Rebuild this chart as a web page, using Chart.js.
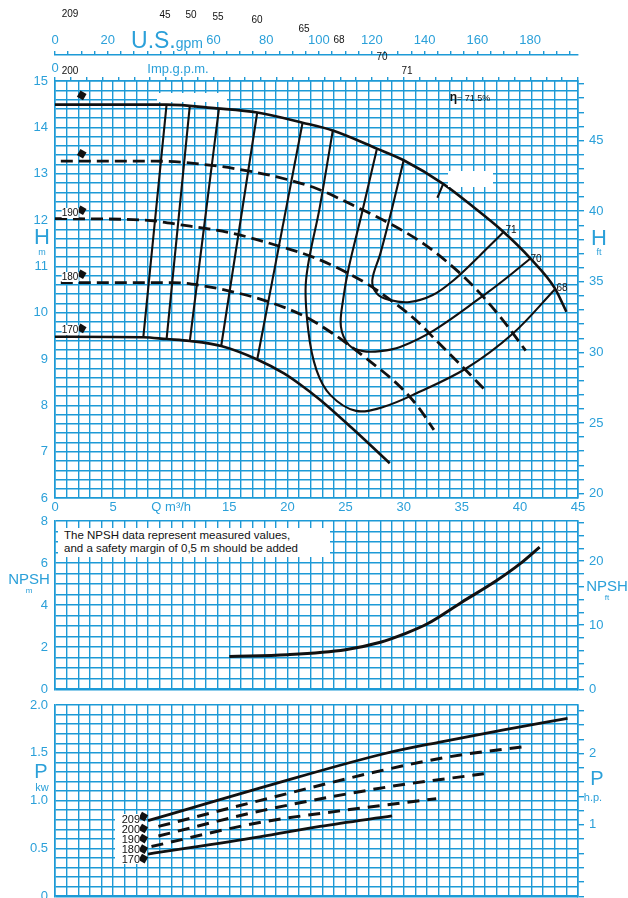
<!DOCTYPE html>
<html>
<head>
<meta charset="utf-8">
<script src="https://cdn.jsdelivr.net/npm/chart.js@4.4.1/dist/chart.umd.min.js"></script>
<style>
body { margin: 0; background: #fff; }
#wrap { position: relative; width: 628px; height: 898px; overflow: hidden; background: #fff;
        font-family: "Liberation Sans", Arial, sans-serif; }
canvas { position: absolute; left: 0; }
.t { position: absolute; white-space: nowrap; transform: translate(-50%, -50%); line-height: 1; }
.b { color: #2ba0d9; }
.k { color: #111; font-size: 10px; }
.w { background: #fff; }
.note { position: absolute; left: 58px; top: 528px; width: 272px; height: 29px; background: #fff;
        color: #111; font-size: 11.5px; line-height: 13px; padding-left: 6px; box-sizing: border-box; padding-top: 1px; }
.plab { position: absolute; left: 115px; top: 814px; width: 25px; background: #fff; color: #111;
        font-size: 11px; line-height: 10px; text-align: right; }
</style>
</head>
<body>
<div id="wrap">
  <canvas id="hq" width="628" height="520" style="top:0"></canvas>
  <canvas id="npsh" width="628" height="199" style="top:505px"></canvas>
  <canvas id="pow" width="628" height="221" style="top:690px"></canvas>

  <!-- efficiency / impeller labels (displaced in the scan) -->
  <div class="t k" style="left:70px;top:14px">209</div>
  <div class="t k" style="left:165px;top:15px">45</div>
  <div class="t k" style="left:191px;top:15px">50</div>
  <div class="t k" style="left:218px;top:17px">55</div>
  <div class="t k" style="left:257px;top:20px">60</div>
  <div class="t k" style="left:304px;top:29px">65</div>
  <div class="t k" style="left:339px;top:40px">68</div>
  <div class="t k" style="left:382px;top:57px">70</div>
  <div class="t k" style="left:407px;top:71px">71</div>
  <div class="t k" style="left:70px;top:71px">200</div>
  <div class="t k" style="left:470px;top:97px;font-size:9px"><b style="font-size:12px">η</b>= 71.5%</div>
  <div class="t k" style="left:511px;top:230px">71</div>
  <div class="t k" style="left:536px;top:259px">70</div>
  <div class="t k" style="left:562px;top:288px">68</div>
  <div class="t k w" style="left:70px;top:213px">190</div>
  <div class="t k w" style="left:70px;top:277px">180</div>
  <div class="t k w" style="left:70px;top:330px">170</div>

  <!-- white label patches -->
  <div style="position:absolute;left:157px;top:93px;width:70px;height:9px;background:#fff"></div>
  <div style="position:absolute;left:448px;top:171px;width:45px;height:16px;background:#fff"></div>

  <!-- axis titles -->
  <div class="t b" style="left:167px;top:40px"><span style="font-size:23px">U.S.</span><span style="font-size:14px">gpm</span></div>
  <div class="t b" style="left:178px;top:68px;font-size:13px">Imp.g.p.m.</div>
  <div class="t b" style="left:42px;top:237px;font-size:22px">H</div>
  <div class="t b" style="left:42px;top:252px;font-size:9px">m</div>
  <div class="t b" style="left:599px;top:238px;font-size:22px">H</div>
  <div class="t b" style="left:599px;top:252px;font-size:9px">ft</div>
  <div class="t b" style="left:29px;top:578px;font-size:15px">NPSH</div>
  <div class="t b" style="left:29px;top:591px;font-size:8px">m</div>
  <div class="t b" style="left:607px;top:585px;font-size:15px">NPSH</div>
  <div class="t b" style="left:607px;top:598px;font-size:8px">ft</div>
  <div class="t b" style="left:41px;top:771px;font-size:20px">P</div>
  <div class="t b" style="left:42px;top:787px;font-size:11px">kw</div>
  <div class="t b" style="left:597px;top:778px;font-size:20px">P</div>
  <div class="t b" style="left:593px;top:797px;font-size:11px">h.p.</div>

  <div class="note">The NPSH data represent measured values,<br>and a safety margin of 0,5 m should be added</div>
  <div class="plab">209<br>200<br>190<br>180<br>170</div>
</div>

<script>
// unit factors
const FT = 3.28084, USGPM = 4.402868, IMPGPM = 3.666154, HP = 1.341022;

// tick labels (40 gpm slots carry the axis titles)
const qLabelled = [0, 5, 10, 15, 20, 25, 30, 35, 40, 45];
const hLabelled = [6, 7, 8, 9, 10, 11, 12, 13, 14, 15];
const hFtLabelled = [20, 25, 30, 35, 40, 45];
const usLabelled = [0, 20, 60, 80, 100, 120, 140, 160, 180];
const impLabelled = [0, 20, 60, 80, 100, 120, 140, 160];
const npshLabelled = [0, 2, 4, 6, 8];
const npshFtLabelled = [0, 10, 20];
const pLabelled = [0, 0.5, 1, 1.5, 2];
const pText = ["0", "0.5", "1.0", "1.5", "2.0"];
const hpLabelled = [1, 2];

// head curves per impeller diameter [Q m3/h, H m]
const H209 = [[0,14.49],[5,14.49],[9.6,14.49],[13.9,14.41],[17.4,14.32],[21.3,14.1],[23.9,13.93],[27.7,13.54],[30,13.29],[33.4,12.78],[36,12.28],[38.6,11.74],[40.9,11.17],[43,10.53],[44,10.02]];
const H200 = [[0.5,13.27],[8.7,13.27],[13.5,13.18],[15.9,13.09],[19.1,12.93],[22.5,12.68],[26.2,12.25],[28,12.03],[31.7,11.49],[34.9,10.84],[36.6,10.41],[38.5,9.85],[40.5,9.18]];
const H190 = [[0,12.03],[7.6,12.0],[11,11.89],[15.3,11.71],[19.1,11.45],[22.5,11.17],[26.8,10.63],[28.5,10.34],[31,9.85],[33,9.35],[35,8.85],[37,8.33]];
const H180 = [[0.5,10.65],[10.2,10.65],[12.5,10.59],[15.3,10.45],[18.2,10.25],[21.4,9.93],[23.9,9.55],[26.8,9.01],[29.7,8.4],[31.3,7.95],[32.6,7.47]];
const H170 = [[0,9.48],[7.6,9.47],[9.6,9.43],[11.6,9.39],[14.3,9.28],[17.4,8.99],[19.7,8.69],[21.1,8.45],[22.8,8.12],[25.5,7.52],[28.8,6.75]];

// iso-efficiency lines [Q, H]
const eta45 = [[9.6,14.49],[7.6,9.47]];
const eta50 = [[11.6,14.47],[9.6,9.43]];
const eta55 = [[14.1,14.4],[11.6,9.39]];
const eta60 = [[17.4,14.32],[14.3,9.28]];
const eta65 = [[21.3,14.1],[17.4,8.99]];
const eta68 = [[23.9,13.93],[22.8,12.3],[21.6,10.7],[21.8,9.6],[22.5,8.76],[23.7,8.22],[25.9,7.88],[28.3,7.97],[31.1,8.26],[35.4,8.8],[39.4,9.55],[43,10.5]];
const eta70 = [[27.7,13.54],[26.4,12.14],[25.3,11.0],[24.8,10.3],[24.6,9.7],[25.3,9.3],[26.5,9.17],[28,9.17],[29.7,9.26],[32.6,9.62],[36.7,10.34],[38.6,10.7],[40.9,11.17]];
const eta71 = [[30,13.29],[29,12.25],[28,11.28],[27.3,10.7],[27.7,10.41],[28.7,10.28],[30.5,10.23],[32.5,10.38],[34.3,10.7],[36.5,11.22],[38.6,11.74]];
const eta715 = [[33.4,12.78],[32.9,12.48]];

// diameter markers
const markQ = 2.3;
const markH = [14.69, 13.43, 12.21, 10.83, 9.66];
const markPQ = 7.6;
const markP = [0.832, 0.708, 0.603, 0.492, 0.393];

// NPSH [Q, m]
const NPSH = [[15,1.56],[20,1.64],[25,1.88],[28,2.23],[30,2.62],[32,3.1],[35,4.14],[38,5.17],[40,5.96],[41.7,6.76]];

// power [Q, kW]
const P209 = [[8,0.79],[13.6,0.99],[17.6,1.13],[28.3,1.49],[33,1.61],[38.6,1.74],[44.1,1.86]];
const P200 = [[8.9,0.73],[17.6,1.0],[28.3,1.32],[34,1.46],[40.7,1.57]];
const P190 = [[8.9,0.63],[18,0.9],[29,1.15],[36.9,1.28]];
const P180 = [[8.3,0.52],[17.6,0.77],[26.9,0.93],[32.8,1.02]];
const P170 = [[8,0.44],[17.6,0.62],[22.8,0.73],[29,0.84]];

const BLUE = "#1d9ad6", TXT = "#2ba0d9", INK = "#111";
Chart.defaults.font.family = '"Liberation Sans", Arial, sans-serif';
Chart.defaults.font.size = 13;

function near(list, v) {
    let r = Math.round(v * 1000) / 1000;
    return list.indexOf(r);
}

function axisX(showLabels, h) {
    return {
        type: "linear", position: "bottom", min: 0, max: 45,
        grid: { color: BLUE, lineWidth: 1.4, drawTicks: false },
        border: { color: BLUE, width: 1.6 },
        ticks: {
            stepSize: 1, autoSkip: false, maxRotation: 0, minRotation: 0, display: showLabels,
            padding: 2, color: TXT,
            callback: v => qLabelled.includes(v) ? (v === 10 ? "Q m³/h" : String(v)) : ""
        },
        afterFit: s => { s.height = h; }
    };
}

function axisLeft(min, max, step, labels, fmt) {
    return {
        type: "linear", position: "left", min: min, max: max,
        grid: { color: BLUE, lineWidth: 1.4, drawTicks: false },
        border: { color: BLUE, width: 1.6 },
        ticks: {
            stepSize: step, autoSkip: false, padding: 7, color: TXT,
            callback: v => { let i = near(labels, v); return i < 0 ? "" : fmt(i); }
        },
        afterFit: s => { s.width = 55; }
    };
}

function axisRight(min, max, step, labels) {
    return {
        type: "linear", position: "right", min: min, max: max,
        grid: { drawOnChartArea: false, color: BLUE, lineWidth: 1.4, tickLength: 6 },
        border: { color: BLUE, width: 1.6 },
        ticks: {
            stepSize: step, autoSkip: false, includeBounds: false, padding: 5, color: TXT,
            callback: v => { let i = near(labels, v); return i < 0 ? "" : String(labels[i]); }
        },
        afterFit: s => { s.width = 50; }
    };
}

function axisTop(max, weight, h, pad, labels) {
    return {
        type: "linear", position: "top", min: 0, max: max, weight: weight,
        grid: { drawOnChartArea: false, color: BLUE, lineWidth: 1.4, tickLength: 4 },
        border: { color: BLUE, width: 1.6 },
        ticks: {
            stepSize: 5, autoSkip: false, includeBounds: false, maxRotation: 0, minRotation: 0,
            padding: pad, color: TXT,
            callback: v => labels.includes(v) ? String(v) : ""
        },
        afterFit: s => { s.height = h; }
    };
}

function curve(pts, opts) {
    return Object.assign({
        data: pts.map(p => ({ x: p[0], y: p[1] })),
        showLine: true, borderColor: INK, borderWidth: 2.6, pointRadius: 0,
        fill: false, tension: 0.35
    }, opts || {});
}

function marks(q, vals) {
    return {
        data: vals.map(v => ({ x: q, y: v })),
        showLine: false, pointStyle: "rect", pointRotation: 30, pointRadius: 5,
        backgroundColor: INK, borderColor: INK, borderWidth: 0
    };
}

const common = {
    responsive: false, animation: false, devicePixelRatio: 1,
    plugins: { legend: { display: false }, tooltip: { enabled: false } }
};

const dash = { borderDash: [12, 6], borderWidth: 2.8 };
const mono = { cubicInterpolationMode: "monotone" };
const thin = { borderWidth: 2.1 };

// H-Q chart
new Chart(document.getElementById("hq"), {
    type: "scatter",
    data: {
        datasets: [
            curve(H209, mono),
            curve(H200, Object.assign({}, mono, dash)),
            curve(H190, Object.assign({}, mono, dash)),
            curve(H180, Object.assign({}, mono, dash)),
            curve(H170, mono),
            curve(eta45, thin), curve(eta50, thin), curve(eta55, thin),
            curve(eta60, thin), curve(eta65, thin),
            curve(eta68, thin), curve(eta70, thin), curve(eta71, thin), curve(eta715, thin),
            marks(markQ, markH)
        ]
    },
    options: Object.assign({}, common, {
        layout: { padding: 0 },
        scales: {
            x: axisX(true, 22),
            y: axisLeft(6, 15, 0.2, hLabelled, i => String(hLabelled[i])),
            yft: axisRight(6 * FT, 15 * FT, 1, hFtLabelled),
            us: axisTop(45 * USGPM, 2, 55, 3, usLabelled),
            imp: axisTop(45 * IMPGPM, 1, 26, 1, impLabelled)
        }
    })
});

// NPSH chart
new Chart(document.getElementById("npsh"), {
    type: "scatter",
    data: { datasets: [curve(NPSH, Object.assign({ borderWidth: 3 }, mono))] },
    options: Object.assign({}, common, {
        layout: { padding: { top: 16 } },
        scales: {
            x: axisX(false, 12),
            y: axisLeft(0, 8, 0.5, npshLabelled, i => String(npshLabelled[i])),
            yft: axisRight(0, 8 * FT, 2, npshFtLabelled)
        }
    })
});

// power chart
const pdash = { borderDash: [12, 8], borderWidth: 3 };
new Chart(document.getElementById("pow"), {
    type: "scatter",
    data: {
        datasets: [
            curve(P209, Object.assign({ borderWidth: 2.8 }, mono)),
            curve(P200, Object.assign({}, mono, pdash)),
            curve(P190, Object.assign({}, mono, pdash)),
            curve(P180, Object.assign({}, mono, pdash)),
            curve(P170, Object.assign({ borderWidth: 2.8 }, mono)),
            marks(markPQ, markP)
        ]
    },
    options: Object.assign({}, common, {
        layout: { padding: { top: 15 } },
        scales: {
            x: axisX(false, 3),
            y: axisLeft(0, 2, 0.1, pLabelled, i => pText[i]),
            yhp: axisRight(0, 2 * HP, 0.2, hpLabelled)
        }
    })
});
</script>
</body>
</html>
